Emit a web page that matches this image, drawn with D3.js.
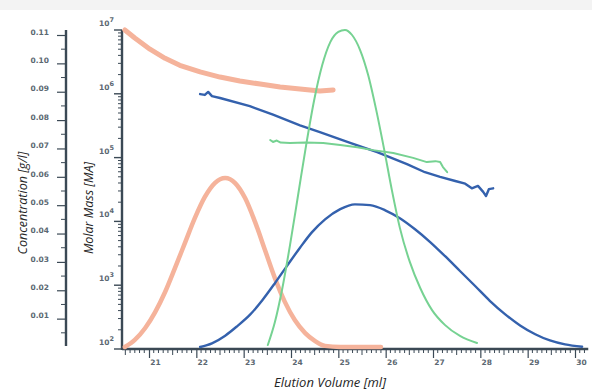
<!DOCTYPE html>
<html>
<head>
<meta charset="utf-8">
<script src="https://cdn.jsdelivr.net/npm/d3@7"></script>
<style>
  html, body { margin: 0; padding: 0; background: #ffffff; }
  svg { display: block; }
  .tick text { font-family: "DejaVu Sans", sans-serif; fill: #5c6872; }
</style>
</head>
<body>
<svg id="chart" width="592" height="390"></svg>
<script>
// Tick values for the three axes
const elutionTicks = [21, 22, 23, 24, 25, 26, 27, 28, 29, 30];
const concTicks = [0.01, 0.02, 0.03, 0.04, 0.05, 0.06, 0.07, 0.08, 0.09, 0.10, 0.11];
const massTicks = [1e2, 1e3, 1e4, 1e5, 1e6, 1e7];

// Concentration traces (elution volume in ml, concentration in g/l)
const orangePeakV = [20.49, 20.70, 20.92, 21.13, 21.34, 21.55, 21.76, 21.97, 22.18, 22.39, 22.61, 22.82, 23.03, 23.24, 23.45, 23.66, 23.87, 24.08, 24.30, 24.51, 24.72, 25.04, 25.90];
const orangePeakC = [0, 0.0025, 0.0067, 0.0123, 0.0194, 0.0279, 0.0367, 0.0455, 0.0529, 0.0578, 0.0596, 0.0578, 0.0525, 0.0441, 0.0342, 0.0243, 0.0159, 0.0095, 0.0049, 0.0021, 0.0004, 0, 0];

const bluePeakV = [22.08, 22.33, 22.61, 22.86, 23.13, 23.39, 23.66, 23.92, 24.19, 24.44, 24.72, 25.04, 25.35, 25.67, 25.99, 26.30, 26.62, 26.94, 27.25, 27.57, 27.89, 28.20, 28.52, 28.84, 29.16, 29.47, 29.79, 30.15];
const bluePeakC = [0, 0.0013, 0.0040, 0.0073, 0.0113, 0.0164, 0.0225, 0.0287, 0.0350, 0.0404, 0.0450, 0.0486, 0.0503, 0.0500, 0.0482, 0.0454, 0.0415, 0.0370, 0.0321, 0.0268, 0.0215, 0.0163, 0.0116, 0.0076, 0.0045, 0.0023, 0.0009, 0.0001];

const greenPeakV = [23.51, 23.66, 23.81, 23.98, 24.15, 24.32, 24.49, 24.66, 24.83, 25.00, 25.14, 25.29, 25.46, 25.63, 25.80, 25.97, 26.13, 26.30, 26.51, 26.73, 26.98, 27.25, 27.57, 27.93];
const greenPeakC = [0.0007, 0.0088, 0.0201, 0.0360, 0.0536, 0.0712, 0.0871, 0.0994, 0.1075, 0.1111, 0.1118, 0.1100, 0.1047, 0.0959, 0.0836, 0.0695, 0.0554, 0.0420, 0.0300, 0.0208, 0.0130, 0.0078, 0.0039, 0.0014];

// Molar mass traces (elution volume in ml, molar mass)
const orangeMassV = [20.49, 20.70, 21.02, 21.34, 21.65, 22.08, 22.50, 22.92, 23.35, 23.77, 24.19, 24.61, 24.89];
const orangeMassM = [1.0e7, 7.5e6, 5.0e6, 3.6e6, 2.8e6, 2.2e6, 1.83e6, 1.59e6, 1.42e6, 1.28e6, 1.19e6, 1.11e6, 1.15e6];

const blueMassV = [22.08, 22.18, 22.25, 22.33, 22.50, 23.13, 23.62, 24.19, 24.61, 25.25, 25.82, 26.45, 26.83, 27.15, 27.47, 27.68, 27.82, 27.95, 28.06, 28.12, 28.18, 28.27];
const blueMassM = [9.9e5, 9.6e5, 1.07e6, 9.2e5, 8.6e5, 6.4e5, 4.7e5, 3.2e5, 2.5e5, 1.7e5, 1.22e5, 7.9e4, 5.9e4, 5.0e4, 4.3e4, 3.9e4, 3.3e4, 3.6e4, 2.9e4, 2.5e4, 3.2e4, 3.3e4];

const greenMassV = [23.56, 23.62, 23.70, 23.78, 23.98, 24.30, 24.68, 25.04, 25.40, 25.73, 26.16, 26.58, 26.87, 27.05, 27.15, 27.21, 27.30];
const greenMassM = [1.89e5, 1.76e5, 1.85e5, 1.72e5, 1.70e5, 1.72e5, 1.70e5, 1.57e5, 1.45e5, 1.31e5, 1.18e5, 9.9e4, 8.5e4, 8.8e4, 8.5e4, 7.1e4, 5.9e4];

const svg = d3.select("#chart");
const axisColor = "#3b4955";

// light band across the top edge
svg.append("rect").attr("x", 0).attr("y", 0).attr("width", 592).attr("height", 10).attr("fill", "#f3f3f3");

// Scales
const x = d3.scaleLinear().domain([21, 30]).range([149, 575]);
const yC = d3.scaleLinear().domain([0, 0.11]).range([347, 35]);
const yM = d3.scaleLog().domain([1e2, 1e7]).range([349, 30]);

const xStart = 20.43, xEnd = 30.28;

// ---------- Concentration axis ----------
const gC = svg.append("g").attr("transform", "translate(66,0)");
gC.append("line").attr("x1", 0).attr("x2", 0).attr("y1", 30).attr("y2", 346)
  .attr("stroke", axisColor).attr("stroke-width", 2.4);
const concMinor = d3.range(1, 23).map(i => i * 0.005).filter(v => !concTicks.some(t => Math.abs(t - v) < 1e-6));
gC.selectAll(".cminor").data(concMinor).join("line")
  .attr("x1", -5).attr("x2", 0).attr("y1", d => yC(d)).attr("y2", d => yC(d))
  .attr("stroke", axisColor).attr("stroke-width", 1);
gC.append("g").call(d3.axisLeft(yC).tickValues(concTicks).tickSize(9).tickFormat(d3.format(".2f")))
  .call(g => g.select(".domain").remove())
  .call(g => g.selectAll(".tick line").attr("stroke", axisColor).attr("stroke-width", 1.2))
  .call(g => g.selectAll(".tick text").attr("font-size", 7.5).attr("font-weight", "bold")
    .attr("x", -17).attr("dy", "-0.1em"));

// ---------- Molar mass axis ----------
const gM = svg.append("g").attr("transform", "translate(122,0)");
gM.append("line").attr("x1", 0).attr("x2", 0).attr("y1", 30).attr("y2", 350)
  .attr("stroke", axisColor).attr("stroke-width", 2.4);
const massMinor = [];
massTicks.slice(0, -1).forEach(m => { for (let k = 2; k <= 9; k++) massMinor.push(m * k); });
gM.selectAll(".mminor").data(massMinor).join("line")
  .attr("x1", -4).attr("x2", 0).attr("y1", d => yM(d)).attr("y2", d => yM(d))
  .attr("stroke", axisColor).attr("stroke-width", 1);
gM.selectAll(".mmajor").data(massTicks).join("line")
  .attr("x1", -8).attr("x2", 0).attr("y1", d => yM(d)).attr("y2", d => yM(d))
  .attr("stroke", axisColor).attr("stroke-width", 1.4);
const mLabels = gM.selectAll(".mlabel").data(massTicks).join("text")
  .attr("x", -8).attr("y", d => yM(d) - 4)
  .attr("text-anchor", "end")
  .attr("font-family", "DejaVu Sans, sans-serif").attr("font-weight", "bold")
  .attr("font-size", 7.5).attr("fill", "#5c6872");
mLabels.append("tspan").text("10");
mLabels.append("tspan").attr("dy", -4).attr("font-size", 6.5).text(d => Math.round(Math.log10(d)));

// ---------- Elution volume axis ----------
const gX = svg.append("g").attr("transform", "translate(0,349)");
gX.append("line").attr("x1", x(xStart)).attr("x2", x(xEnd)).attr("y1", 0).attr("y2", 0)
  .attr("stroke", axisColor).attr("stroke-width", 2.4);
const xMinor = d3.range(Math.ceil(xStart * 10), Math.floor(xEnd * 10) + 1).map(i => i / 10)
  .filter(v => !elutionTicks.some(t => Math.abs(t - v) < 1e-6));
gX.selectAll(".xminor").data(xMinor).join("line")
  .attr("x1", d => x(d)).attr("x2", d => x(d))
  .attr("y1", 0).attr("y2", d => Math.abs((d * 10) % 5) < 1e-6 ? 6 : 4)
  .attr("stroke", axisColor).attr("stroke-width", 1);
gX.append("g").call(d3.axisBottom(x).tickValues(elutionTicks).tickSize(9).tickFormat(d3.format("d")))
  .call(g => g.select(".domain").remove())
  .call(g => g.selectAll(".tick line").attr("stroke", axisColor).attr("stroke-width", 1.2))
  .call(g => g.selectAll(".tick text").attr("font-size", 7.5).attr("font-weight", "bold")
    .attr("x", 6).attr("y", 11));

// ---------- Axis titles ----------
svg.append("text").attr("transform", "translate(27,203) rotate(-90)")
  .attr("text-anchor", "middle").attr("font-family", "Open Sans, sans-serif")
  .attr("font-style", "italic").attr("font-size", 12.5).attr("fill", "#262626")
  .text("Concentration [g/l]");
svg.append("text").attr("transform", "translate(93,208) rotate(-90)")
  .attr("text-anchor", "middle").attr("font-family", "Open Sans, sans-serif")
  .attr("font-style", "italic").attr("font-size", 12.5).attr("fill", "#262626")
  .text("Molar Mass [MA]");
svg.append("text").attr("x", 330).attr("y", 387)
  .attr("text-anchor", "middle").attr("font-family", "Open Sans, sans-serif")
  .attr("font-style", "italic").attr("font-size", 13).attr("fill", "#262626")
  .text("Elution Volume [ml]");

// ---------- Traces ----------
const lineC = d3.line().x(d => x(d[0])).y(d => yC(d[1])).curve(d3.curveMonotoneX);
const lineM = d3.line().x(d => x(d[0])).y(d => yM(d[1])).curve(d3.curveLinear);
const zip = (a, b) => a.map((v, i) => [v, b[i]]);

const orange = "#f5b39b", blue = "#3461ad", green = "#76d292";

const traces = [
  { d: lineC(zip(orangePeakV, orangePeakC)), c: orange, w: 4.5 },
  { d: lineM(zip(orangeMassV, orangeMassM)), c: orange, w: 5 },
  { d: lineC(zip(bluePeakV, bluePeakC)), c: blue, w: 2.4 },
  { d: lineM(zip(blueMassV, blueMassM)), c: blue, w: 2.4 },
  { d: lineC(zip(greenPeakV, greenPeakC)), c: green, w: 2 },
  { d: lineM(zip(greenMassV, greenMassM)), c: green, w: 2 }
];
svg.selectAll(".trace").data(traces).join("path")
  .attr("class", "trace")
  .attr("d", t => t.d)
  .attr("fill", "none")
  .attr("stroke", t => t.c)
  .attr("stroke-width", t => t.w)
  .attr("stroke-linejoin", "round")
  .attr("stroke-linecap", "round");
</script>
</body>
</html>
